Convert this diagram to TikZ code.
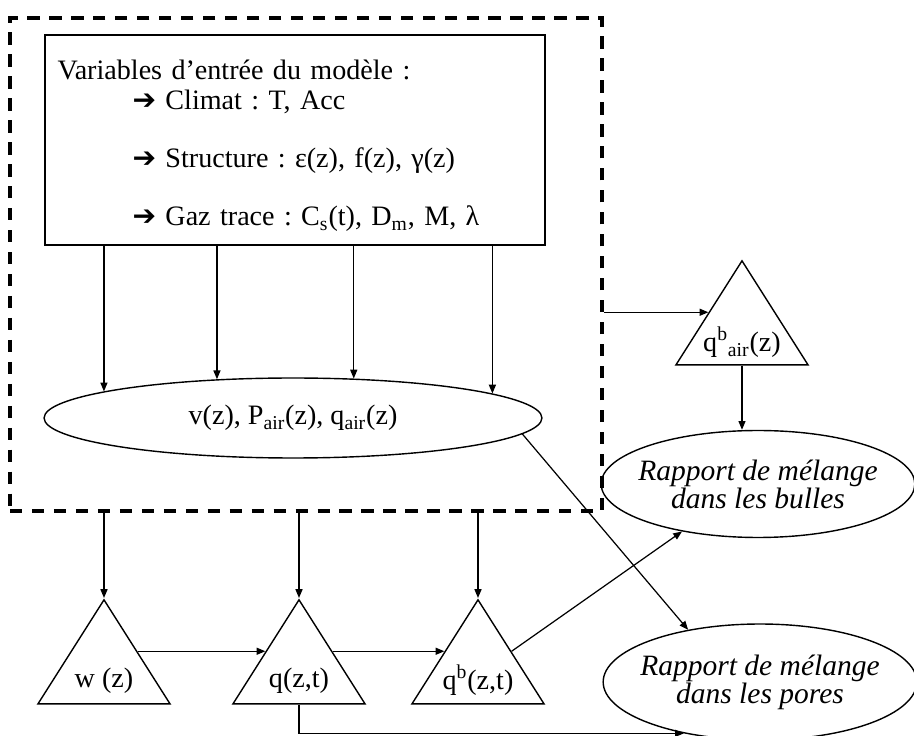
\documentclass[tikz,border=0pt]{standalone}
\usepackage{fontspec}
\setmainfont{Liberation Serif}
\newfontfamily\arrowfont{DejaVu Sans}
\usetikzlibrary{shapes.geometric, arrows.meta, positioning, calc}

\newcommand{\inarrow}{{\arrowfont ➔}}
\frenchspacing

\begin{document}
\begin{tikzpicture}[
  x=0.02cm, y=-0.02cm,
  font=\fontsize{16}{17}\selectfont,
  inbox/.style     = {draw, line width=1.4pt, minimum width=10cm, minimum height=4.2cm,
                      text width=9.5cm, align=left, inner sep=0pt},
  dashframe/.style = {draw, line width=2.2pt, dash pattern=on 7pt off 5.5pt,
                      minimum width=11.84cm, minimum height=9.86cm, inner sep=0pt},
  ell/.style       = {draw, ellipse, line width=0.8pt, inner sep=0pt},
  res/.style       = {ell, minimum width=6.2cm, align=center, inner xsep=-5pt,
                      font=\fontsize{16.8}{16}\selectfont\itshape},
  tri/.style       = {draw, isosceles triangle, isosceles triangle stretches,
                      shape border rotate=90, minimum width=2.64cm, minimum height=2.08cm,
                      inner sep=0pt, line width=0.8pt, anchor=apex},
  arr/.style       = {-{Triangle[length=5pt,width=4pt]}, line width=0.7pt}
]
\useasboundingbox (0,0) rectangle (914,736);

% ── MODELE ──────────────────────────────────────────────
\node[dashframe] (model) at (306,264.5) {};
\node[inbox] (inbox) at (295,140) {\rule{0pt}{18pt}Variables d’entrée du modèle :\\
  \hspace*{1.5cm}\inarrow\ Climat : T, Acc\\[16pt]
  \hspace*{1.5cm}\inarrow\ Structure : ε(z), f(z), γ(z)\\[16pt]
  \hspace*{1.5cm}\inarrow\ Gaz trace : C\textsubscript{s}(t), D\textsubscript{m}, M, λ};
\node[ell, minimum width=9.96cm, minimum height=1.6cm] (vz) at (293,418)
  {v(z), P\textsubscript{air}(z), q\textsubscript{air}(z)};

% ── BULLES ──────────────────────────────────────────────
\node[tri] (qbair) at (742,259) {};
\node (qbairlab) at ([yshift=0.46cm]qbair.lower side) {q\textsuperscript{b}\textsubscript{air}(z)};
\node[res, minimum height=2.14cm] (bulles) at (758,484) {Rapport de mélange\\dans les bulles};

% ── PORES ───────────────────────────────────────────────
\node[tri] (w)  at (104,598) {};
\node[tri] (q)  at (299,598) {};
\node[tri] (qb) at (478,598) {};
\node (wlab)  at ([yshift=0.48cm]w.lower side)  {w (z)};
\node (qlab)  at ([yshift=0.48cm]q.lower side)  {q(z,t)};
\node (qblab) at ([yshift=0.48cm]qb.lower side) {q\textsuperscript{b}(z,t)};
\node[res, minimum height=2.32cm] (pores) at (760,682) {Rapport de mélange\\dans les pores};

% ── ARROWS ──────────────────────────────────────────────
\foreach \a in {172,153,33.5,7.6}
  \draw[arr] (inbox.south -| vz.\a) -- (vz.\a);
\foreach \t in {w,q,qb}
  \draw[arr] (model.south -| \t.apex) -- (\t.apex);
\draw[arr] (model.east |- qbair.left side) -- (qbair.left side);
\draw[arr] (qbair.lower side) -- (qbair.lower side |- bulles.north);
\draw[arr] (w.right side) -- (q.left side);
\draw[arr] (q.right side) -- (qb.left side);
\draw[arr] (qb.right side) -- (bulles.212);
\draw[arr] (vz.-4) -- (pores.144);
\draw[arr] (q.lower side) |- (pores.214);

\end{tikzpicture}
\end{document}
